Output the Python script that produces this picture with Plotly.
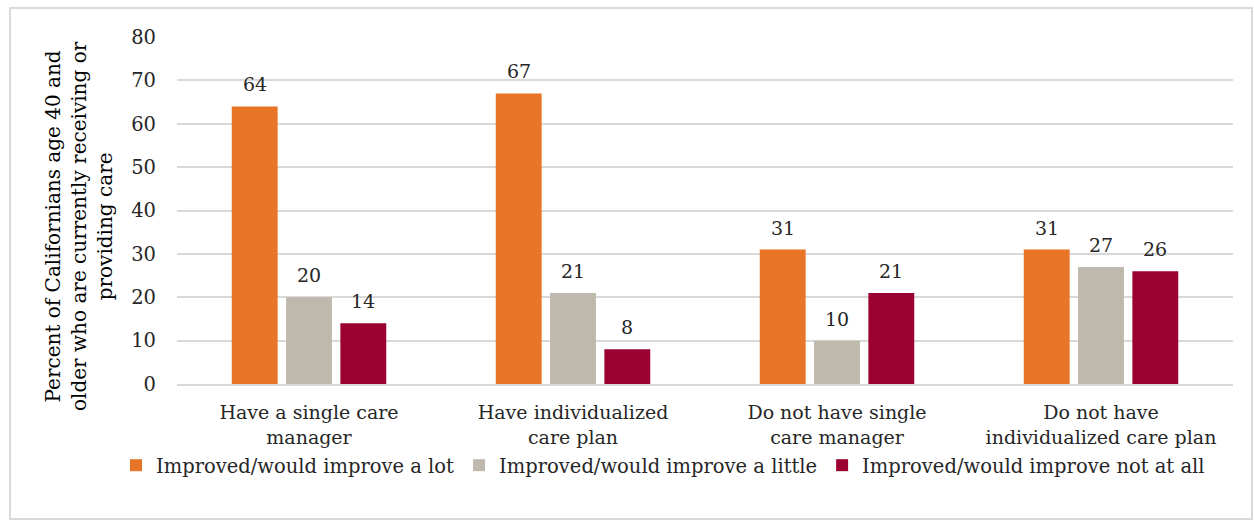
import plotly.graph_objects as go

categories = [
    "Have a single care<br>manager",
    "Have individualized<br>care plan",
    "Do not have single<br>care manager",
    "Do not have<br>individualized care plan",
]
series_names = [
    "Improved/would improve a lot",
    "Improved/would improve a little",
    "Improved/would improve not at all",
]
improve_a_lot = [64, 67, 31, 31]
improve_a_little = [20, 21, 10, 27]
improve_not_at_all = [14, 8, 21, 26]
colors = ["#E87525", "#BFB8AD", "#9A0030"]
y_title = "Percent of Californians age 40 and<br>older who are currently receiving or<br>providing care"

W, H = 1254, 521
ML, MR, MT, MB = 12, 12, 37, 137      # paper margins
PX0, PX1 = 177, 1233                  # plot-area pixel extent
FONT = "DejaVu Serif"
TXT = "#262626"
BARGAP = 0.383

pw = W - ML - MR
ph = H - MT - MB


def px(x):
    return (x - ML) / pw


def py(y):
    return 1 - (y - MT) / ph


fig = go.Figure()
all_series = [improve_a_lot, improve_a_little, improve_not_at_all]
for name, vals, col in zip(series_names, all_series, colors):
    fig.add_trace(go.Bar(
        name=name, x=categories, y=vals, marker=dict(color=col, line=dict(width=0)),
    ))

# value labels above each bar, placed at the grouped-bar offsets
slot = (1 - BARGAP) / len(all_series)
for k, vals in enumerate(all_series):
    for i, v in enumerate(vals):
        fig.add_annotation(
            x=i + (k - (len(all_series) - 1) / 2) * slot, y=v, xref="x", yref="y",
            text=str(v), showarrow=False, yanchor="bottom", yshift=9,
            font=dict(size=19, family=FONT, color=TXT),
        )

# rotated y-axis title
fig.add_annotation(
    text=y_title, xref="paper", yref="paper", showarrow=False, textangle=-90,
    x=px(79), xanchor="center", y=py(226), yanchor="middle",
    font=dict(size=20, family=FONT, color="#000"),
)

# outer chart frame
fig.add_shape(type="rect", xref="paper", yref="paper",
              x0=px(10), x1=px(W - 2), y0=py(H - 2), y1=py(8),
              line=dict(color="#d9d9d9", width=2), fillcolor="rgba(0,0,0,0)", layer="below")

fig.update_layout(
    width=W, height=H,
    margin=dict(l=ML, r=MR, t=MT, b=MB),
    paper_bgcolor="white", plot_bgcolor="white",
    barmode="group", bargap=BARGAP, bargroupgap=0.155,
    font=dict(family=FONT, color=TXT, size=19),
    showlegend=True,
    legend=dict(orientation="h", x=px(663), xanchor="center", y=py(446), yanchor="top",
                bgcolor="rgba(0,0,0,0)",
                font=dict(size=19.5, family=FONT, color=TXT), itemwidth=30,
                traceorder="normal"),
    xaxis=dict(domain=[px(PX0), px(PX1)], showline=True, linecolor="#d9d9d9", linewidth=2,
               ticks="", ticklabelstandoff=10, automargin=False,
               tickfont=dict(size=19, family=FONT, color=TXT)),
    yaxis=dict(range=[0, 80], dtick=10, showgrid=True, gridcolor="#d9d9d9", gridwidth=2,
               zeroline=False, ticks="", ticklabelstandoff=20, automargin=False,
               tickfont=dict(size=19.5, family=FONT, color=TXT)),
)

fig.write_html("out.html")
